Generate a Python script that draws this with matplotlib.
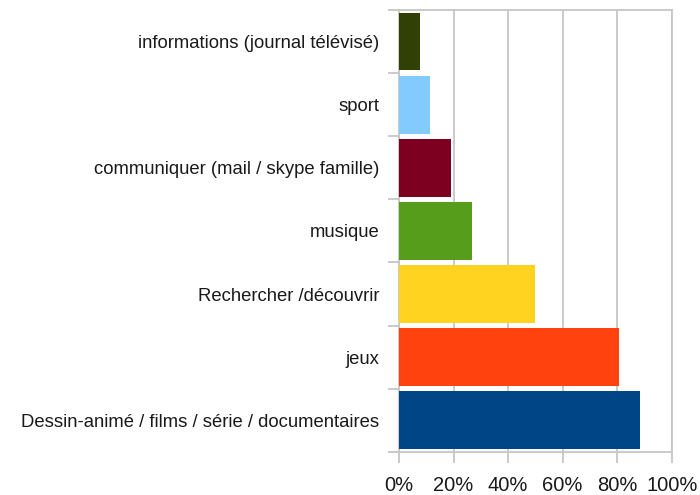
import matplotlib.pyplot as plt
from matplotlib.ticker import FixedLocator, PercentFormatter

plt.rcParams['font.family'] = ['Liberation Sans', 'DejaVu Sans']

# categories listed bottom to top
categories = [
    "Dessin-animé / films / série / documentaires",
    "jeux",
    "Rechercher /découvrir",
    "musique",
    "communiquer (mail / skype famille)",
    "sport",
    "informations (journal télévisé)",
]
# share of answers (%)
values = [88.46, 80.77, 50.0, 26.92, 19.23, 11.54, 7.69]
colors = ["#004586", "#ff420e", "#ffd320", "#579d1c", "#7e0021", "#83caff", "#314004"]

grid_color = "#c6c6c6"

fig = plt.figure(figsize=(7, 4.95), dpi=100)
ax = fig.add_axes([0.57, 0.087, 0.3896, 0.893])

pos = list(range(len(categories)))
ax.barh(pos, values, height=0.915, color=colors, zorder=3)

ax.set_xlim(0, 100)
ax.set_ylim(-0.5, len(categories) - 0.5)
ax.set_xticks(range(0, 101, 20))
ax.xaxis.set_major_formatter(PercentFormatter(decimals=0))
ax.grid(axis="x", color=grid_color, linewidth=1.3, zorder=0)

# category labels at bar centres, tick marks on the boundaries
ax.set_yticks(pos)
ax.set_yticklabels(categories)
ax.yaxis.set_minor_locator(FixedLocator([p - 0.5 for p in pos] + [len(pos) - 0.5]))
ax.tick_params(axis="y", which="major", length=0, pad=14, labelsize=13.3, labelcolor="#1a1a1a")
ax.tick_params(axis="y", which="minor", length=8, width=1.3, color=grid_color)
ax.tick_params(axis="x", length=8, width=1.3, color=grid_color, pad=9,
               labelsize=14.5, labelcolor="#1a1a1a")

for side in ["left", "right", "top", "bottom"]:
    ax.spines[side].set_color(grid_color)
    ax.spines[side].set_linewidth(1.3)

fig.savefig("out.png", dpi=100)
